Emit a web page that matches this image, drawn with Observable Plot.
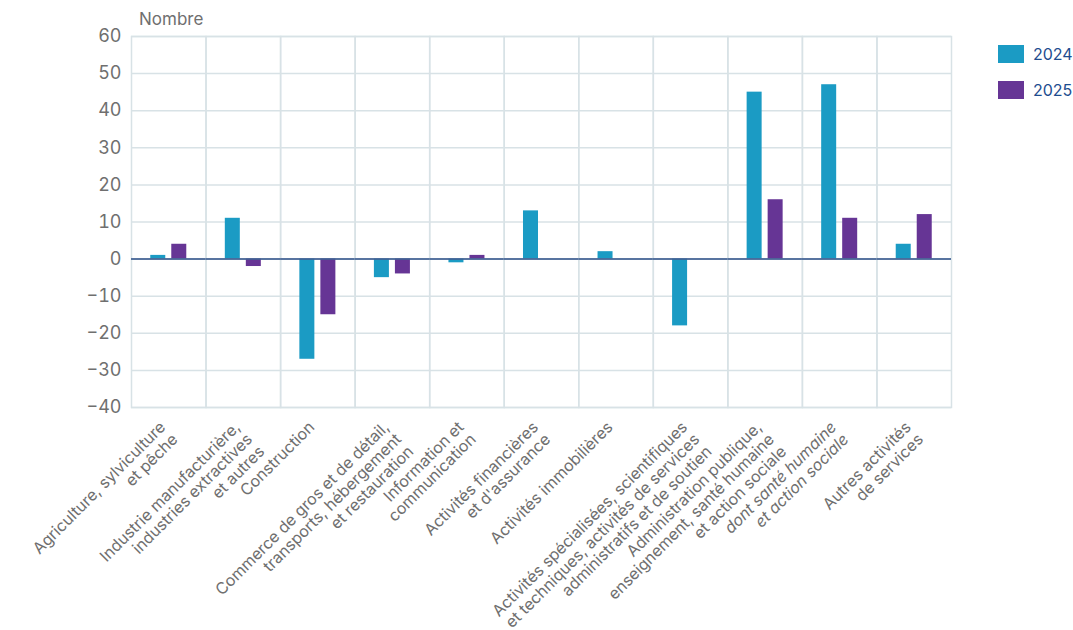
<!DOCTYPE html>
<html>
<head>
<meta charset="utf-8">
<script src="https://cdn.jsdelivr.net/npm/d3@7"></script>
<script src="https://cdn.jsdelivr.net/npm/@observablehq/plot@0.6"></script>
<style>
  body { margin: 0; background: #fff; font-family: Inter, "Noto Sans", sans-serif; }
  #wrap { position: relative; width: 1073px; height: 630px; overflow: hidden; }
  .ylab { position: absolute; left: 139px; top: 9px; font-size: 17px; color: #6f6f6f; }
  .leg { position: absolute; left: 998px; font-size: 16px; color: #1e4d8f; display: flex; align-items: center; }
  .sw { width: 26px; height: 18px; margin-right: 9px; }
</style>
</head>
<body>
<div id="wrap"></div>
<script>
const categories = [
  "Agriculture, sylviculture\net pêche",
  "Industrie manufacturière,\nindustries extractives\net autres",
  "Construction",
  "Commerce de gros et de détail,\ntransports, hébergement\net restauration",
  "Information et\ncommunication",
  "Activités financières\net d'assurance",
  "Activités immobilières",
  "Activités spécialisées, scientifiques\net techniques, activités de services\nadministratifs et de soutien",
  "Administration publique,\nenseignement, santé humaine\net action sociale",
  "dont santé humaine\net action sociale",
  "Autres activités\nde services"
];
const italicCategory = "dont santé humaine\net action sociale";
const years = ["2024", "2025"];
const values2024 = [1, 11, -27, -5, -1, 13, 2, -18, 45, 47, 4];
const values2025 = [4, -2, -15, -4, 1, 0, 0, 0, 16, 11, 12];
const colors = ["#1b9bc4", "#663595"];
const yTicks = [-40, -30, -20, -10, 0, 10, 20, 30, 40, 50, 60];

const data = [];
categories.forEach((c, i) => {
  data.push({cat: c, year: years[0], value: values2024[i]});
  data.push({cat: c, year: years[1], value: values2025[i]});
});

const grid = "#d8e2e6";
const chart = Plot.plot({
  width: 1073,
  height: 630,
  marginLeft: 131,
  marginRight: 122,
  marginTop: 36,
  marginBottom: 223,
  style: {fontFamily: "Inter, 'Noto Sans', sans-serif", background: "#fff"},
  fx: {domain: categories, padding: 0, label: null, round: false},
  x: {domain: years, paddingInner: 0.286, paddingOuter: 0.917, axis: null, round: false},
  y: {domain: [-40, 60], label: null},
  color: {domain: years, range: colors},
  marks: [
    Plot.gridY(yTicks, {stroke: grid, strokeOpacity: 1, strokeWidth: 1.5}),
    Plot.frame({stroke: grid, strokeWidth: 1.5}),
    Plot.barY(data, {fx: "cat", x: "year", y: "value", fill: "year"}),
    Plot.ruleY([0], {stroke: "#3f5f93", strokeWidth: 2, strokeOpacity: 0.85}),
    Plot.axisY(yTicks, {tickSize: 0, tickPadding: 10, fontSize: 18, fill: "#6f6f6f",
      tickFormat: d => d < 0 ? "\u2212" + Math.abs(d) : String(d)}),
    Plot.axisFx({anchor: "bottom", tickRotate: -45, tickSize: 0, tickPadding: 12, dx: -11,
      lineAnchor: "top", lineHeight: 1.08, fontSize: 16, fill: "#6f6f6f", label: null})
  ]
});

// italic for the "dont" sub-category label
chart.querySelectorAll("text").forEach(t => {
  const s = Array.from(t.querySelectorAll("tspan")).map(n => n.textContent).join("\n") || t.textContent;
  if (s === italicCategory) t.setAttribute("font-style", "italic");
});

const wrap = document.getElementById("wrap");
wrap.appendChild(chart);
const yl = document.createElement("div");
yl.className = "ylab"; yl.textContent = "Nombre";
wrap.appendChild(yl);
years.forEach((y, i) => {
  const d = document.createElement("div");
  d.className = "leg";
  d.style.top = (44 + i * 36) + "px";
  d.innerHTML = `<div class="sw" style="background:${colors[i]}"></div><span>${y}</span>`;
  wrap.appendChild(d);
});
</script>
</body>
</html>
